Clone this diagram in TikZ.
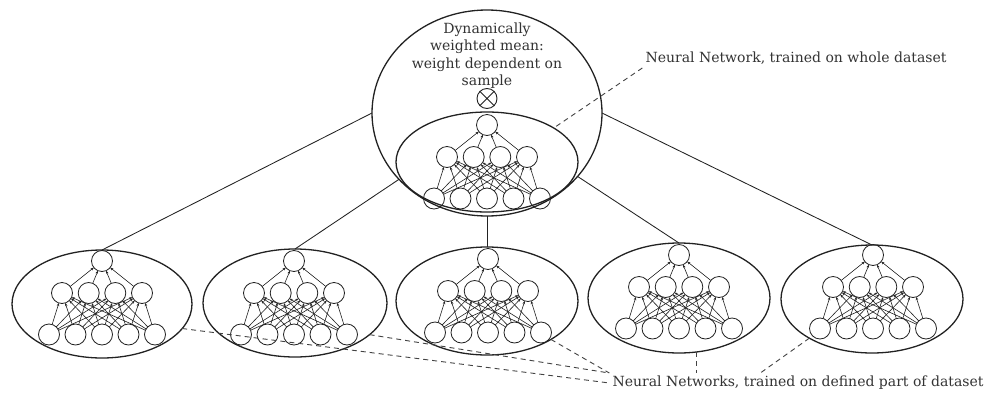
\documentclass[tikz,border=0pt]{standalone}
\usepackage{fontspec}
\setmainfont{DejaVu Serif}
\usetikzlibrary{shapes.geometric,arrows.meta,calc}
\definecolor{ink}{HTML}{222222}
\definecolor{txt}{HTML}{333333}
\tikzset{
  neuron/.style={circle,draw=ink,line width=0.8pt,minimum size=21pt,inner sep=0pt,outer sep=0pt},
  syn/.style={draw=ink,line width=0.6pt,-{Stealth[length=3.2pt,width=2.6pt]}},
  oval/.style={ellipse,draw=ink,line width=1.3pt,inner sep=0pt,outer sep=0pt},
  link/.style={draw=ink,line width=0.85pt},
  dash line/.style={draw=ink!85,line width=0.9pt,dash pattern=on 5pt off 4pt},
  lbl/.style={text=txt,font=\fontsize{14}{17.4}\selectfont,inner sep=3pt},
}
\newcommand\nnet[3]{%
  \node[neuron] (#1o) at (#2,#3) {};
  \foreach \k/\dx in {1/-40,2/-13.3,3/13.3,4/40}
    \node[neuron] (#1h\k) at ({#2+\dx},{#3+32}) {};
  \foreach \k/\dx in {1/-53,2/-26.5,3/0,4/26.5,5/53}
    \node[neuron] (#1i\k) at ({#2+\dx},{#3+73.5}) {};
  \foreach \a in {1,...,5}
    \foreach \b in {1,...,4}
      \draw[syn] (#1i\a) -- (#1h\b);
  \foreach \b in {1,...,4}
    \draw[syn] (#1h\b) -- (#1o);
}
\begin{document}
\begin{tikzpicture}[x=1pt,y=-1pt]
\useasboundingbox[fill=white] (0,0) rectangle (985,394);

% big ellipse and inner ellipse
\node[oval,minimum width=230pt,minimum height=206pt] (big) at (487,113) {};
\node[oval,minimum width=182pt,minimum height=100pt] (inner) at (487,162) {};
\node[lbl,align=center] (title) at (487,55.5) {Dynamically\\weighted mean:\\weight dependent on\\sample};
\node[circle,draw=ink,line width=0.9pt,minimum size=20pt,inner sep=0pt] (ot) at (487,98.5) {};
\draw[ink,line width=0.9pt] (ot.north west) -- (ot.south east) (ot.north east) -- (ot.south west);
\nnet{m}{487}{125}

% bottom ellipses
\node[oval,minimum width=180pt,minimum height=108pt] (e1) at (102,304) {};
\node[oval,minimum width=184pt,minimum height=108pt] (e2) at (295,303) {};
\node[oval,minimum width=182pt,minimum height=108pt] (e3) at (487,301) {};
\node[oval,minimum width=182pt,minimum height=110pt] (e4) at (679,298) {};
\node[oval,minimum width=182pt,minimum height=108pt] (e5) at (872,299) {};
\nnet{a}{102}{261}
\nnet{b}{294}{261}
\nnet{c}{488}{259}
\nnet{d}{679}{255}
\nnet{e}{873}{255}

% connectors
\draw[link] (big.west) -- (e1.north);
\draw[link] (big.217) -- (e2.north);
\draw[link] (big.south) -- (e3.north);
\draw[link] (big.-35) -- (e4.north);
\draw[link] (big.east) -- (e5.north);

% labels
\node[lbl] (lab1) at (796,58.5) {Neural Network, trained on whole dataset};
\node[lbl] (lab2) at (798,383) {Neural Networks, trained on defined part of dataset};
\draw[dash line] (lab1.south west) -- (inner.27.6);
\draw[dash line] (e1.-17) -- (lab2.west);
\draw[dash line] (e2.-23) -- (lab2.north west);
\draw[dash line] (e3.-31) -- (lab2.north west);
\draw[dash line] (e4.-72) -- (e4.-72 |- lab2.north);
\coordinate (l2p) at ($(lab2.north west)!0.4!(lab2.north east)$);
\draw[dash line] (e5.212) -- (l2p);
\end{tikzpicture}
\end{document}
